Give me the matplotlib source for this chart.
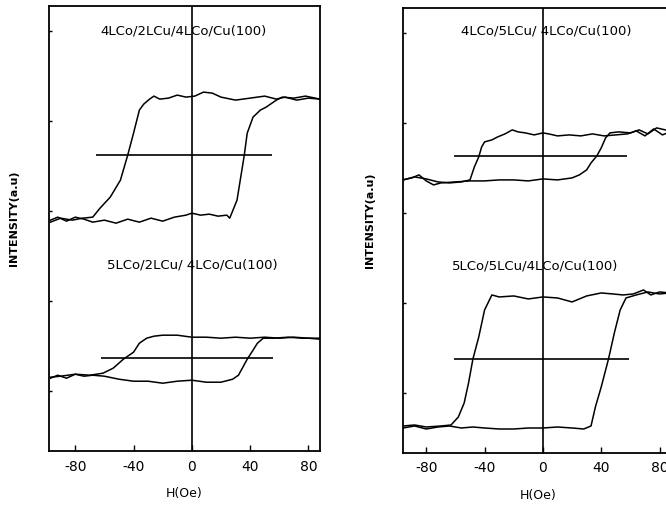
import numpy as np
import matplotlib
matplotlib.use("Agg")
import matplotlib.pyplot as plt

# ---- data (read off the scanned loops), intensity in arbitrary units ----
# top left: 4LCo/2LCu/4LCo/Cu(100)
tl_up_h = [88, 80, 72, 64, 58, 50, 40, 30, 20, 14, 8, 2, -4, -10, -16, -22, -26, -29, -33, -36, -40, -44, -49, -56, -63, -68, -75, -82, -90, -97]
tl_up_i = [352, 353, 351, 354, 352, 355, 353, 351, 354, 358, 359, 355, 354, 356, 353, 352, 355, 352, 347, 341, 318, 296, 271, 254, 243, 234, 233, 231, 233, 229]
tl_lo_h = [-97, -92, -86, -80, -74, -68, -60, -52, -44, -36, -28, -20, -12, -4, 0, 6, 12, 18, 24, 26, 31, 34, 36, 38, 42, 47, 51, 58, 62, 70, 78, 88]
tl_lo_i = [231, 234, 230, 234, 232, 229, 231, 228, 232, 229, 233, 230, 234, 236, 238, 236, 237, 235, 236, 233, 251, 278, 296, 318, 334, 341, 344, 351, 354, 353, 355, 352]

# bottom left: 5LCo/2LCu/4LCo/Cu(100)
bl_up_h = [88, 80, 70, 60, 50, 40, 30, 20, 10, 0, -10, -20, -26, -31, -36, -40, -47, -54, -61, -70, -80, -90, -97]
bl_up_i = [112, 113, 114, 113, 114, 113, 114, 113, 114, 114, 116, 116, 115, 113, 108, 99, 92, 83, 78, 76, 77, 75, 74]
bl_lo_h = [-97, -92, -86, -80, -74, -68, -60, -50, -40, -30, -20, -10, 0, 10, 20, 28, 32, 35, 38, 42, 45, 49, 56, 66, 76, 88]
bl_lo_i = [73, 76, 73, 77, 75, 76, 75, 72, 70, 70, 68, 70, 71, 69, 69, 72, 76, 84, 92, 101, 108, 113, 113, 114, 113, 113]

# top right: 4LCo/5LCu/4LCo/Cu(100)
tr_up_h = [87, 82, 76, 70, 64, 58, 50, 42, 34, 26, 18, 10, 4, 0, -6, -12, -17, -21, -26, -31, -35, -40, -42, -44, -47, -50, -56, -64, -72, -80, -88, -96]
tr_up_i = [321, 318, 324, 317, 322, 319, 318, 317, 319, 317, 318, 317, 319, 320, 318, 320, 321, 323, 319, 316, 313, 311, 306, 296, 286, 273, 271, 270, 271, 274, 276, 273]
tr_lo_h = [-96, -90, -85, -80, -75, -70, -60, -50, -40, -30, -20, -10, 0, 10, 20, 25, 30, 33, 37, 40, 43, 46, 52, 60, 66, 72, 78, 87]
tr_lo_i = [273, 275, 278, 272, 268, 270, 271, 272, 272, 273, 273, 272, 274, 273, 275, 278, 283, 290, 297, 305, 315, 320, 321, 320, 323, 319, 325, 322]

# bottom right: 5LCo/5LCu/4LCo/Cu(100)
br_up_h = [87, 80, 74, 69, 62, 55, 48, 40, 30, 20, 10, 0, -10, -20, -30, -35, -40, -44, -48, -51, -54, -58, -63, -70, -80, -88, -96]
br_up_i = [160, 161, 158, 163, 159, 158, 159, 160, 157, 151, 155, 156, 154, 157, 156, 158, 143, 116, 94, 70, 50, 36, 28, 27, 26, 28, 27]
br_lo_h = [-96, -88, -80, -72, -64, -56, -48, -40, -30, -20, -10, 0, 10, 20, 28, 33, 36, 40, 45, 49, 53, 57, 64, 72, 80, 87]
br_lo_i = [25, 27, 24, 26, 27, 25, 26, 25, 24, 24, 25, 25, 26, 25, 24, 27, 46, 66, 94, 120, 143, 155, 158, 161, 159, 160]

# horizontal reference segments (H from, H to, intensity)
tl_mid = (-66, 55, 296)
bl_mid = (-62, 56, 93)
tr_mid = (-61, 58, 297)
br_mid = (-61, 59, 94)

labels = ["4LCo/2LCu/4LCo/Cu(100)", "5LCo/2LCu/ 4LCo/Cu(100)",
          "4LCo/5LCu/ 4LCo/Cu(100)", "5LCo/5LCu/4LCo/Cu(100)"]
xticks = [-80, -40, 0, 40, 80]

fig = plt.figure(figsize=(6.66, 5.07), dpi=100)
axL = fig.add_axes([0.0736, 0.110, 0.407, 0.878])
axR = fig.add_axes([0.605, 0.1065, 0.405, 0.878])

def draw(ax, loops, mids, xlim):
    for h1, i1, h2, i2 in loops:
        ax.plot(h1, i1, color="black", lw=1.1)
        ax.plot(h2, i2, color="black", lw=1.1)
    for a, b, y in mids:
        ax.hlines(y, a, b, color="black", lw=1.2)
    ax.axvline(0, color="black", lw=1.2)
    ax.set_xlim(*xlim)
    ax.set_ylim(0, 445)
    ax.set_xticks(xticks)
    ax.set_xticklabels([str(t) for t in xticks], fontsize=10)
    ax.set_yticks([60, 150, 240, 330, 420])
    ax.set_yticklabels([])
    ax.tick_params(axis="x", direction="in", length=4, width=1, pad=6)
    ax.tick_params(axis="y", direction="in", length=2, width=1)
    for s in ax.spines.values():
        s.set_linewidth(1.3)
    ax.set_xlabel("H(Oe)", fontsize=9, labelpad=10)

draw(axL, [(tl_up_h, tl_up_i, tl_lo_h, tl_lo_i), (bl_up_h, bl_up_i, bl_lo_h, bl_lo_i)],
     [tl_mid, bl_mid], (-98, 88))
draw(axR, [(tr_up_h, tr_up_i, tr_lo_h, tr_lo_i), (br_up_h, br_up_i, br_lo_h, br_lo_i)],
     [tr_mid, br_mid], (-96, 89))

axL.text(-6, 420, labels[0], fontsize=9.5, ha="center", va="center")
axL.text(0, 186, labels[1], fontsize=9.5, ha="center", va="center")
axR.text(2, 422, labels[2], fontsize=9.5, ha="center", va="center")
axR.text(-5, 187, labels[3], fontsize=9.5, ha="center", va="center")

fig.text(0.021, 0.57, "INTENSITY(a.u)", rotation=90, fontsize=8, fontweight="bold",
         ha="center", va="center")
fig.text(0.555, 0.565, "INTENSITY(a.u)", rotation=90, fontsize=8, fontweight="bold",
         ha="center", va="center")

fig.savefig("out.png", dpi=100)
